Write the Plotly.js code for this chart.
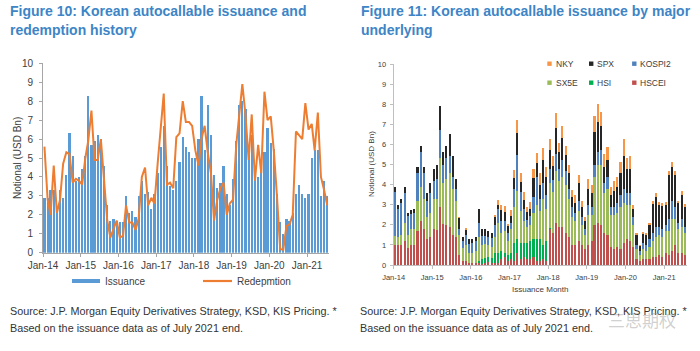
<!DOCTYPE html>
<html>
<head>
<meta charset="utf-8">
<script src="https://cdn.plot.ly/plotly-3.0.1.min.js"></script>
<style>
html,body{margin:0;padding:0;background:#fff;}
#chart{width:700px;height:351px;}
</style>
</head>
<body>
<div id="chart"></div>
<script>
// ---------- DATA ----------
const tickLabels = ['Jan-14','Jan-15','Jan-16','Jan-17','Jan-18','Jan-19','Jan-20','Jan-21'];
const tickDates = ['2014-01-01','2015-01-01','2016-01-01','2017-01-01','2018-01-01','2019-01-01','2020-01-01','2021-01-01'];

// Monthly categories Jan-2014 .. Jul-2021 (mid-month positions)
const months = [];
for (let y = 2014; y <= 2021; y++) {
  for (let m = 1; m <= 12; m++) {
    if (y === 2021 && m > 7) break;
    months.push(y + '-' + String(m).padStart(2, '0') + '-15');
  }
}

// Figure 10 (USD bn)
const issuance = [
  2.9,2.9,3.3,3.3,2.1,3.3,2.9,4.1,6.3,5.1,3.8,4.0,
  4.4,5.1,8.3,5.7,5.9,6.2,6.0,4.6,2.5,1.7,1.8,1.7,
  1.6,1.6,3.0,2.1,2.2,1.9,3.0,3.8,3.1,3.2,2.3,3.1,
  4.2,5.6,6.7,4.6,3.5,3.3,3.8,4.8,6.1,5.6,5.3,5.0,
  5.0,6.0,8.3,5.4,7.8,6.2,4.1,3.4,3.7,4.6,3.1,2.5,
  3.9,5.9,7.8,8.0,7.6,5.4,6.2,4.2,4.0,4.6,5.3,6.6,
  5.8,5.5,3.1,1.6,1.0,1.8,1.7,2.1,3.1,3.6,3.1,2.9,
  3.1,5.0,5.4,5.4,3.0,3.8,3.0
];
const redemption = [
  5.6,2.8,2.0,4.6,2.1,2.8,4.7,5.3,5.2,3.7,3.9,3.8,
  3.6,5.0,5.9,7.5,4.9,4.9,6.0,3.7,1.7,0.8,1.3,1.7,
  0.8,0.9,2.5,1.6,1.6,1.2,1.8,4.0,4.5,2.5,2.9,2.6,
  4.7,6.9,8.4,3.6,3.7,3.4,6.1,6.3,8.0,6.9,6.9,6.7,
  5.4,4.6,6.0,6.7,5.3,4.2,1.7,2.8,3.4,3.7,2.0,2.6,
  2.8,5.7,7.2,8.9,7.3,4.9,7.3,3.8,5.7,4.2,8.5,7.0,
  7.2,5.3,3.0,0.2,0.15,1.4,1.5,2.0,6.4,6.2,6.0,7.9,
  6.5,6.8,5.4,7.4,4.0,3.3,2.5
];

// Figure 11 (USD bn) by underlying
const hscei = [
  1.0,1.0,1.0,1.2,0.85,1.0,1.0,1.7,2.2,1.8,1.3,1.4,
  1.8,1.75,2.9,2.05,2.0,1.9,1.5,1.4,0.5,0.2,0.2,0.1,
  0.1,0.1,0.1,0.05,0.1,0.15,0.1,0.1,0.1,0.3,0.4,0.2,
  0.3,0.2,0.6,0.3,0.4,0.3,0.3,0.4,0.2,0.2,0.3,0.2,
  1.8,1.6,2.1,1.9,1.9,1.6,1.4,1.0,1.0,1.2,1.0,0.8,
  1.0,1.2,2.0,2.1,2.0,1.6,1.5,0.9,0.8,0.9,0.8,1.1,
  1.3,1.2,0.9,0.3,0.2,0.3,0.3,0.3,0.4,0.4,0.5,0.4,
  0.6,0.5,0.7,1.0,0.6,0.6,0.5
];
const hsi = [
  0,0,0,0,0,0,0,0,0,0,0,0,
  0,0,0,0,0,0,0,0,0,0,0,0,
  0,0,0.1,0.25,0.25,0.25,0.25,0.5,0.5,0.4,0.2,0.3,
  0.3,0.9,0.7,0.8,0.7,0.8,0.9,0.9,1.1,1.1,0.7,1.0,
  0.05,0,0,0,0,0,0,0,0,0,0,0,
  0,0,0,0,0,0,0,0,0,0,0,0,
  0,0,0,0,0,0,0,0,0,0,0,0,
  0,0,0,0,0,0,0
];
const sx5e = [
  0.45,0.4,0.5,0.9,0.65,0.8,0.8,1.5,1.7,1.5,1.1,1.2,
  1.5,1.55,2.4,2.05,2.3,2.7,2.3,1.8,1.0,0.65,0.8,0.5,
  0.5,0.6,1.2,0.7,0.7,0.6,0.55,0.8,1.5,0.9,1.1,0.7,
  1.2,1.8,2.4,1.6,1.1,0.8,0.8,1.3,1.7,1.4,2.3,1.6,
  2.25,2.05,2.6,2.3,2.5,2.4,1.9,1.4,1.2,1.5,1.0,0.7,
  1.5,1.3,2.4,2.9,3.0,2.0,2.3,1.6,1.7,1.7,2.1,2.0,
  1.7,1.8,1.1,0.5,0.3,0.5,0.4,0.6,0.8,1.0,1.0,1.0,
  1.1,1.2,1.6,1.3,1.2,1.3,1.1
];
const kospi2 = [
  2.2,1.4,1.6,1.5,0.95,0.75,0.8,1.4,1.7,1.3,0.8,1.0,
  0.9,1.0,1.4,0.9,1.0,0.8,0.6,0.6,0.3,0.35,0.5,0.45,
  0.5,0.5,0.7,0.45,0.4,0.4,0.45,0.6,0.7,0.6,0.5,0.4,
  0.3,0.9,1.75,0.95,0.6,0.35,0.45,0.8,1.4,0.6,0.8,0.7,
  0.7,0.6,0.8,0.6,0.8,0.7,0.5,0.5,0.4,0.5,0.4,0.3,
  0.5,0.4,0.6,0.6,0.7,0.5,0.6,0.4,0.4,0.5,0.6,0.7,
  0.6,0.6,0.4,0.2,0.2,0.3,0.3,0.4,0.4,0.5,0.4,0.4,
  0.3,0.6,0.9,0.6,0.3,0.4,0.3
];
const spx = [
  0.25,0.2,0.2,0.3,0.15,0.2,0.2,0.3,0.3,0.3,0.4,0.5,
  0.6,0.7,1.2,0.6,0.6,1.1,1.0,0.5,0.55,0.2,0.25,0.25,
  0.2,0.2,0.7,0.35,0.35,0.3,0.25,0.4,0.2,0.55,0.45,0.35,
  0.35,0.55,1.1,0.5,0.45,0.4,0.35,0.95,0.65,0.7,1.1,0.9,
  0.9,0.7,1.3,0.8,1.1,0.75,0.8,0.5,0.5,0.9,0.5,0.4,
  0.8,0.7,1.6,1.5,1.2,0.8,0.8,0.6,0.8,0.8,1.1,1.6,
  1.2,1.2,0.4,0.5,0.25,0.45,0.5,0.7,1.45,1.5,1.1,1.15,
  1.0,2.2,1.7,1.6,1.0,1.2,1.0
];
const nky = [
  0,0,0,0,0,0,0,0,0,0,0,0,
  0,0,0,0,0,0,0,0,0.05,0,0.1,0,
  0,0,0,0,0,0,0,0.1,0.25,0.25,0.3,0.1,
  0.3,0.4,0.65,0.45,0.4,0.25,0.35,0.45,0.5,0.6,0.6,0.5,
  0.55,0.45,0.75,0.45,0.6,0.45,0.4,0.35,0.4,0.4,0.3,0.2,
  0.5,0.4,0.8,0.9,0.7,0.6,0.65,0.4,0.5,0.5,0.5,0.85,
  0.5,0.6,0.2,0.1,0.05,0.1,0.1,0.1,0.15,0.2,0.15,0.15,
  0.15,0.2,0.2,0.2,0.1,0.2,0.15
];

// ---------- STYLE ----------
const FONT = 'Liberation Sans, Arial, sans-serif';
const TITLE_BLUE = '#3d85c6';
const TXT = '#404040';
const W = 700, H = 351;
const fx = x => x / W;
const fy = y => 1 - y / H;
const DAY = 86400000;

const traces = [
  {type:'bar', name:'Issuance', x:months, y:issuance, xaxis:'x', yaxis:'y',
   width: 22*DAY, marker:{color:'#5b9bd5'}, showlegend:false, hoverinfo:'skip'},
  {type:'scatter', mode:'lines', name:'Redepmtion', x:months, y:redemption, xaxis:'x', yaxis:'y',
   line:{color:'#ed7d31', width:2}, showlegend:false, hoverinfo:'skip'}
];
const stack = [
  ['HSCEI', hscei, '#c0504d'],
  ['HSI', hsi, '#00b050'],
  ['SX5E', sx5e, '#9bbb59'],
  ['KOSPI2', kospi2, '#4f81bd'],
  ['SPX', spx, '#262626'],
  ['NKY', nky, '#f79646']
];
stack.forEach(([n, v, c]) => traces.push({
  type:'bar', name:n, x:months, y:v, xaxis:'x2', yaxis:'y2', width: 20*DAY,
  marker:{color:c}, showlegend:false, hoverinfo:'skip'
}));

const axCommon = {
  type:'date', range:['2014-01-01','2021-08-01'], tickmode:'array',
  tickvals:tickDates, ticktext:tickLabels, ticks:'outside', ticklen:3,
  showline:true, showgrid:false, zeroline:false, fixedrange:true
};

const annotations = [];
function txt(t, x, y, size, color, opts) {
  annotations.push(Object.assign({text:t, xref:'paper', yref:'paper', x:fx(x), y:fy(y),
    xanchor:'left', yanchor:'middle', showarrow:false,
    font:{family:FONT, size:size, color:color}}, opts || {}));
}
// Titles
txt('<b>Figure 10: Korean autocallable issuance and</b>', 8, 11, 14, TITLE_BLUE);
txt('<b>redemption history</b>', 8, 30, 14, TITLE_BLUE);
txt('<b>Figure 11: Korean autocallable issuance by major</b>', 359, 11, 14, TITLE_BLUE);
txt('<b>underlying</b>', 359, 30, 14, TITLE_BLUE);
// Axis titles (placed precisely)
txt('Notional (USD Bn)', 17, 158, 10, TXT, {textangle:-90, xanchor:'center'});
txt('Notional (USD Bn)', 371, 164, 8, TXT, {textangle:-90, xanchor:'center'});
txt('Issuance Month', 540, 289, 8, TXT, {xanchor:'center'});
// Left legend
txt('Issuance', 103, 281, 10, TXT);
txt('Redepmtion', 235, 281, 10, TXT);
// Right legend
const legItems = [
  ['NKY', '#f79646', 549.5, 63.7], ['SPX', '#262626', 591.2, 63.7], ['KOSPI2', '#4f81bd', 634.3, 63.7],
  ['SX5E', '#9bbb59', 549.5, 82.7], ['HSI', '#00b050', 591.2, 82.7], ['HSCEI', '#c0504d', 634.3, 82.7]
];
legItems.forEach(([n, c, x, y]) => txt(n, x + 4, y, 8.5, TXT));
// Footers
txt('Source: J.P. Morgan Equity Derivatives Strategy, KSD, KIS Pricing. *', 8, 311, 10.8, '#333333');
txt('Based on the issuance data as of July 2021 end.', 8, 328, 10.8, '#333333');
txt('Source: J.P. Morgan Equity Derivatives Strategy, KSD, KIS Pricing. *', 358, 311, 10.8, '#333333');
txt('Based on the issuance data as of July 2021 end.', 358, 328, 10.8, '#333333');
// watermark
annotations.push({text:'三思期权', xref:'paper', yref:'paper', x:fx(606), y:fy(319), xanchor:'left', yanchor:'middle',
  showarrow:false, font:{family:'Noto Sans CJK SC', size:17, color:'rgba(150,150,150,0.45)'}});

const shapes = [
  {type:'rect', xref:'paper', yref:'paper', x0:fx(72), x1:fx(100), y0:fy(283), y1:fy(279),
   fillcolor:'#5b9bd5', line:{width:0}},
  {type:'line', xref:'paper', yref:'paper', x0:fx(203), x1:fx(232), y0:fy(281), y1:fy(281),
   line:{color:'#ed7d31', width:2.2}}
];
legItems.forEach(([n, c, x, y]) => shapes.push({type:'rect', xref:'paper', yref:'paper',
  x0:fx(x - 2.2), x1:fx(x + 2.2), y0:fy(y + 2.2), y1:fy(y - 2.2), fillcolor:c, line:{width:0}}));

const layout = {
  width:W, height:H, margin:{l:0, r:0, t:0, b:0},
  paper_bgcolor:'#ffffff', plot_bgcolor:'#ffffff',
  font:{family:FONT, color:TXT},
  barmode:'stack', showlegend:false,
  xaxis: Object.assign({}, axCommon, {
    domain:[fx(43), fx(329)], anchor:'y', tickcolor:'#a6a6a6', linecolor:'#a6a6a6',
    tickfont:{family:FONT, size:10, color:TXT}
  }),
  yaxis: {
    domain:[fy(252.7), fy(63.3)], anchor:'x', range:[0,10], dtick:1, ticks:'outside', ticklen:3,
    tickcolor:'#a6a6a6', showline:true, linecolor:'#a6a6a6', showgrid:false, zeroline:false, fixedrange:true,
    tickfont:{family:FONT, size:10, color:TXT}, ticklabelstandoff:4
  },
  xaxis2: Object.assign({}, axCommon, {
    domain:[fx(393.6), fx(686.6)], anchor:'y2', tickcolor:'#bfbfbf', linecolor:'#bfbfbf',
    tickfont:{family:FONT, size:7.5, color:TXT}, ticklabelstandoff:2
  }),
  yaxis2: {
    domain:[fy(265), fy(64)], anchor:'x2', range:[0,10], dtick:1, ticks:'outside', ticklen:3,
    tickcolor:'#bfbfbf', showline:true, linecolor:'#bfbfbf', showgrid:false, zeroline:false, fixedrange:true,
    tickfont:{family:FONT, size:7.5, color:TXT}, ticklabelstandoff:2
  },
  annotations:annotations, shapes:shapes
};

Plotly.newPlot('chart', traces, layout, {displayModeBar:false, staticPlot:true});
</script>
</body>
</html>
